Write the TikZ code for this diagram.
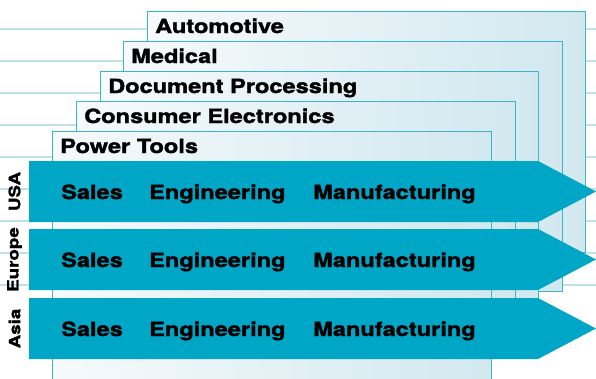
\documentclass[tikz,border=0pt]{standalone}
\usepackage{fontspec}
\setmainfont{TeX Gyre Heros}[FakeStretch=1.21,FakeBold=1.6]
\usepackage{tikz}
\definecolor{bandblue}{RGB}{0,166,198}
\definecolor{paneledge}{RGB}{60,180,206}
\definecolor{panellight}{RGB}{246,250,252}
\definecolor{paneldark}{RGB}{210,232,239}
\definecolor{gridline}{RGB}{190,226,233}

\begin{document}
\begin{tikzpicture}[x=1pt,y=-1pt,
  panel/.style={draw=paneledge,line width=0.8pt,left color=panellight,right color=paneldark},
  band/.style={fill=bandblue},
  tab/.style={anchor=base west,inner sep=0pt,font=\fontsize{19.5}{20}\selectfont\bfseries},
  cell/.style={anchor=base west,inner sep=0pt,font=\fontsize{19.5}{20}\selectfont\bfseries},
  region/.style={rotate=90,inner sep=0pt,font=\fontsize{15.5}{16}\selectfont\bfseries}]
\useasboundingbox (0,0) rectangle (596,378);
% \draw[help lines] (0,0) grid (596,378);
\foreach \y in {29,61,...,285}
  \draw[gridline,line width=1.5pt] (0,\y) -- (596,\y);
%
\foreach \l/\t/\r/\b/\name/\txt in {147/11/585/252/auto/Automotive,
    123/41/562/291/med/Medical, 100/71/538/330/doc/Document Processing,
    76/101/515/345/cons/Consumer Electronics, 52/131/491/382/pow/Power Tools}{
  \draw[panel] (\l,\t) rectangle (\r,\b);
  \node[tab] (\name) at (\l+8,\t+22) {\txt};
}
%
\foreach \t/\name/\reg in {161/usa/USA, 229/eur/Europe, 298/asia/Asia}{
  \fill[band] (29,\t) -- (538,\t) -- (596,\t+30.5) -- (538,\t+61) -- (29,\t+61) -- cycle;
  \node[cell] (\name-s) at (61,\t+38) {Sales};
  \node[cell] (\name-e) at (149,\t+38) {Engineering};
  \node[cell] (\name-m) at (313,\t+38) {Manufacturing};
  \node[region] (\name) at (14.5,\t+30.5) {\reg};
}
\end{tikzpicture}
\end{document}
